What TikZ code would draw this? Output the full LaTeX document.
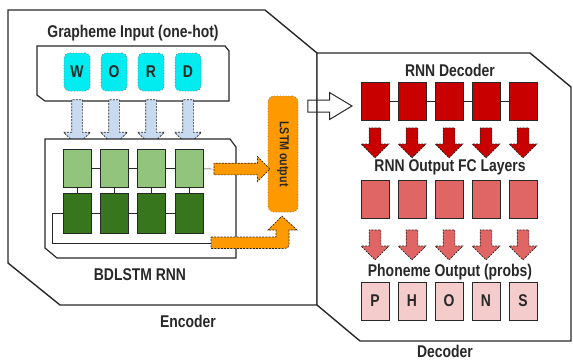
\documentclass[tikz,border=0pt]{standalone}
\usepackage{fontspec}
\setmainfont{Liberation Sans}[FakeStretch=0.82]
\usetikzlibrary{shapes.arrows}

\definecolor{inkgray}{RGB}{40,40,40}
\definecolor{gcyan}{RGB}{0,236,240}
\definecolor{gblue}{RGB}{200,218,240}
\definecolor{lgreen}{RGB}{147,196,125}
\definecolor{dgreen}{RGB}{56,118,29}
\definecolor{lorange}{RGB}{255,153,0}
\definecolor{dred}{RGB}{200,0,0}
\definecolor{mred}{RGB}{224,102,102}
\definecolor{lpink}{RGB}{244,204,204}

\tikzset{
  lbl/.style={font=\fontsize{17}{19}\selectfont\bfseries, text=inkgray},
  cell/.style={draw=inkgray, line width=0.8pt, minimum width=28pt, minimum height=38pt, inner sep=0pt, lbl},
  letter/.style={cell, fill=gcyan, draw=gray, dotted, rounded corners=5pt, minimum width=26pt},
  frame/.style={draw=inkgray, line width=1.4pt, fill=white},
  blockarr/.style={single arrow, draw=inkgray, dashed, dash pattern=on 2pt off 1.2pt, line width=0.7pt, inner sep=5pt, single arrow head extend=8pt},
  downarr/.style={blockarr, shape border rotate=270},
}

\begin{document}
\begin{tikzpicture}[x=1pt, y=-1pt]
  \useasboundingbox (0,0) rectangle (573,360);
  % outer frames
  \draw[frame] (8,10) -- (265,10) -- (317,53) -- (317,305) -- (60,305) -- (8,263) -- cycle;
  \draw[frame] (317,53) -- (530,53) -- (571,87) -- (571,341) -- (360,341) -- (317,305) -- cycle;
  \node[lbl] (enc) at (188,321) {Encoder};
  \node[lbl] (dec) at (445,351) {Decoder};

  % encoder input
  \draw[frame, line width=1.2pt] (37,46) -- (225,46) -- (229,51) -- (229,101) -- (45,101) -- (37,95) -- cycle;
  \node[lbl] (gin) at (133,33) {Grapheme Input (one-hot)};
  \foreach \x/\ltr [count=\i] in {77/W,114/O,151/R,188/D} {
    \node[letter] (w\i) at (\x,72) {\ltr};
    \node[downarr, fill=gblue, minimum height=46pt] (ba\i) at (\x,120) {};
  }

  % bidirectional lstm
  \draw[frame, line width=1.2pt] (45,139) -- (230,139) -- (236,147) -- (236,258) -- (57,258) -- (45,248) -- cycle;
  \foreach \x [count=\i] in {77,114,151,189} {
    \node[cell, fill=lgreen] (l\i) at (\x,168.5) {};
    \node[cell, fill=dgreen, minimum height=40pt] (d\i) at (\x,213) {};
    \draw[inkgray] (l\i) -- (d\i);
  }
  \foreach \i/\j in {1/2,2/3,3/4} {
    \draw[inkgray] (l\i) -- (l\j);
    \draw[inkgray] (d\i) -- (d\j);
  }
  \node[lbl] (bdl) at (140,275) {BDLSTM RNN};

  % lstm output
  \node[cell, fill=lorange, draw=gray, dotted, rounded corners=6pt, minimum width=30pt, minimum height=116pt] (lstm) at (283,154) {\rotatebox{-90}{\fontsize{13}{15}\selectfont LSTM output}};
  \node[blockarr, fill=lorange, minimum height=56pt, inner sep=5.5pt, single arrow head extend=6.5pt] (oa1) at (239,169) {};
  \draw[inkgray] (l4) -- (oa1.tail);
  \coordinate (ob) at (211,243);
  \draw[inkgray] (d1.west) -- ++(-10,0) |- (ob);
  \draw[fill=lorange, draw=inkgray, dashed, dash pattern=on 2pt off 1.2pt, line width=0.7pt] (211,237) -- (276,237) -- (276,230) -- (268,230) -- (282,216) -- (297,230) -- (289,230) -- (289,240) .. controls (289,248.5) .. (280,248.5) -- (211,248.5) -- cycle;

  % encoder to decoder
  \node[blockarr, solid, line width=1pt, minimum height=44pt, inner sep=5.5pt, single arrow head extend=7.5pt, single arrow tip angle=62] (wa) at (325,106) {};

  % decoder
  \node[lbl] (rd) at (450,70) {RNN Decoder};
  \node[lbl] (fc) at (450,167) {RNN Output FC Layers};
  \node[lbl] (po) at (450,272) {Phoneme Output (probs)};
  \foreach \x/\ltr [count=\i] in {375/P,412/H,449/O,486/N,523/S} {
    \node[cell, fill=dred] (r\i) at (\x,101) {};
    \node[downarr, fill=dred, minimum height=30pt, inner sep=5.5pt, single arrow head extend=8pt] (ra\i) at (\x,140) {};
    \node[cell, fill=mred] (f\i) at (\x,199) {};
    \node[downarr, fill=mred, minimum height=30pt, inner sep=5.5pt, single arrow head extend=8pt] (fa\i) at (\x,242) {};
    \node[cell, fill=lpink] (p\i) at (\x,301) {\ltr};
  }
  \foreach \i/\j in {1/2,2/3,3/4,4/5} \draw[inkgray] (r\i) -- (r\j);
\end{tikzpicture}
\end{document}
